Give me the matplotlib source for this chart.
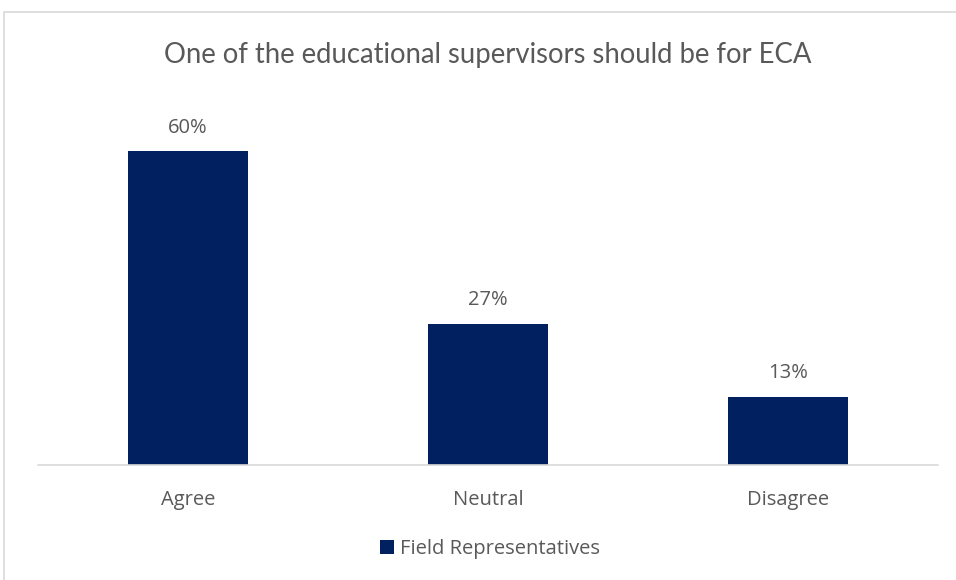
import matplotlib.pyplot as plt
from matplotlib.patches import Rectangle

# chart data
categories = ["Agree", "Neutral", "Disagree"]
values = [60, 27, 13]
series_name = "Field Representatives"
title = "One of the educational supervisors should be for ECA"

bar_color = "#002060"
text_color = "#595959"

W, H = 956, 580
fig = plt.figure(figsize=(W / 100, H / 100), dpi=100)

# outer chart border (light grey), cut off at right/bottom like the screenshot
fig.patches.append(Rectangle((4 / W, -0.1), 1.2, (H - 12) / H + 0.1,
                             transform=fig.transFigure, fill=False,
                             edgecolor="#d9d9d9", linewidth=1.2))

ax = fig.add_axes([38 / W, (H - 465) / H, 900 / W, 366 / H])
bars = ax.bar(range(len(categories)), values, width=0.4, color=bar_color,
              label=series_name)
ax.set_xlim(-0.5, len(categories) - 0.5)
ax.set_ylim(0, 70)

for b, v in zip(bars, values):
    ax.text(b.get_x() + b.get_width() / 2, v + 2.6, f"{v}%",
            ha="center", va="bottom", fontsize=14.5, color=text_color,
            family="Open Sans")

ax.set_xticks(range(len(categories)))
ax.set_xticklabels(categories, fontsize=14.5, color=text_color, family="Open Sans")
ax.tick_params(axis="x", length=0, pad=18)
ax.set_yticks([])
for s in ["top", "right", "left"]:
    ax.spines[s].set_visible(False)
ax.spines["bottom"].set_color("#d9d9d9")
ax.spines["bottom"].set_linewidth(1.2)

fig.text(488 / W, 1 - 55 / H, title, ha="center", va="center",
         fontsize=19.8, color=text_color, family="Lato")

fig.legend(handles=[bars], labels=[series_name], loc="center",
           bbox_to_anchor=(490 / W, 1 - 549 / H), frameon=False,
           prop={"family": "Open Sans", "size": 14.5}, labelcolor=text_color,
           handlelength=0.7, handleheight=0.7, handletextpad=0.3)

fig.savefig("out.png", dpi=100)
